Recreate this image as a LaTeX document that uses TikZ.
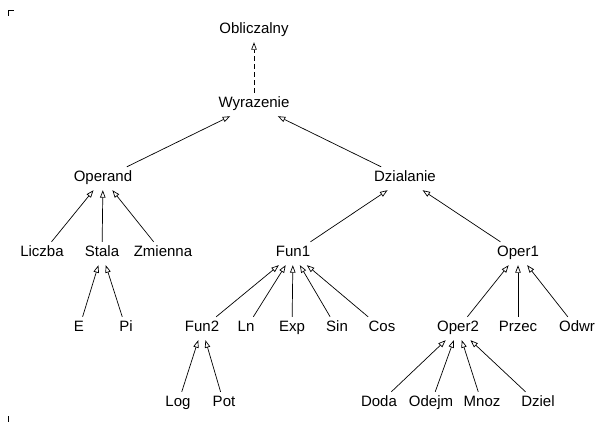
\documentclass[tikz,border=0pt]{standalone}
\usepackage{fontspec}
\setmainfont{Liberation Sans}
\usetikzlibrary{arrows.meta}
\begin{document}
\begin{tikzpicture}[x=1pt,y=-1pt,
  cls/.style={font=\fontsize{15pt}{17pt}\selectfont, text height=10pt, text depth=5pt, inner ysep=4pt, inner xsep=2pt},
  inh/.style={draw, line width=0.7pt, -{Triangle[open,length=7.5pt,width=5.5pt]}},
  real/.style={draw, line width=0.7pt, dash pattern=on 5pt off 3pt, -{Triangle[open,length=7.5pt,width=5.5pt]}}]
\useasboundingbox (0,0) rectangle (599,423);
% corner marks
\draw[line width=0.8pt] (13.5,10) -- (8,10) -- (8,15.5);
\draw[line width=0.8pt] (8,416) -- (8,422);
% nodes
\node[cls] (obl) at (254,30.5) {Obliczalny};
\node[cls] (wyr) at (254,104.5) {Wyrazenie};
\node[cls] (opd) at (103,178.5) {Operand};
\node[cls] (dzi) at (405,178.5) {Dzialanie};
\node[cls] (lic) at (42,253.5) {Liczba};
\node[cls] (sta) at (102,253.5) {Stala};
\node[cls] (zmi) at (163,253.5) {Zmienna};
\node[cls] (fun1) at (293,253.5) {Fun1};
\node[cls] (op1) at (518,253.5) {Oper1};
\node[cls] (e) at (79,328.5) {E};
\node[cls] (pi) at (126,328.5) {Pi};
\node[cls] (fun2) at (202,328.5) {Fun2};
\node[cls] (ln) at (246,328.5) {Ln};
\node[cls] (exp) at (292,328.5) {Exp};
\node[cls] (sin) at (337,328.5) {Sin};
\node[cls] (cos) at (382,328.5) {Cos};
\node[cls] (op2) at (458,328.5) {Oper2};
\node[cls] (prz) at (518,328.5) {Przec};
\node[cls] (odw) at (577,328.5) {Odwr};
\node[cls] (log) at (178,403.5) {Log};
\node[cls] (pot) at (224,403.5) {Pot};
\node[cls] (dod) at (379,403.5) {Doda};
\node[cls] (ode) at (431,403.5) {Odejm};
\node[cls] (mno) at (482,403.5) {Mnoz};
\node[cls] (dzl) at (538,403.5) {Dziel};
% edges
\draw[real] (wyr) -- (obl);
\draw[inh] (opd) -- (wyr);
\draw[inh] (dzi) -- (wyr);
\draw[inh] (lic) -- (opd);
\draw[inh] (sta) -- (opd);
\draw[inh] (zmi) -- (opd);
\draw[inh] (fun1) -- (dzi);
\draw[inh] (op1) -- (dzi);
\draw[inh] (e) -- (sta);
\draw[inh] (pi) -- (sta);
\draw[inh] (fun2) -- (fun1);
\draw[inh] (ln) -- (fun1);
\draw[inh] (exp) -- (fun1);
\draw[inh] (sin) -- (fun1);
\draw[inh] (cos) -- (fun1);
\draw[inh] (op2) -- (op1);
\draw[inh] (prz) -- (op1);
\draw[inh] (odw) -- (op1);
\draw[inh] (log) -- (fun2);
\draw[inh] (pot) -- (fun2);
\draw[inh] (dod) -- (op2);
\draw[inh] (ode) -- (op2);
\draw[inh] (mno) -- (op2);
\draw[inh] (dzl) -- (op2);
\end{tikzpicture}
\end{document}
